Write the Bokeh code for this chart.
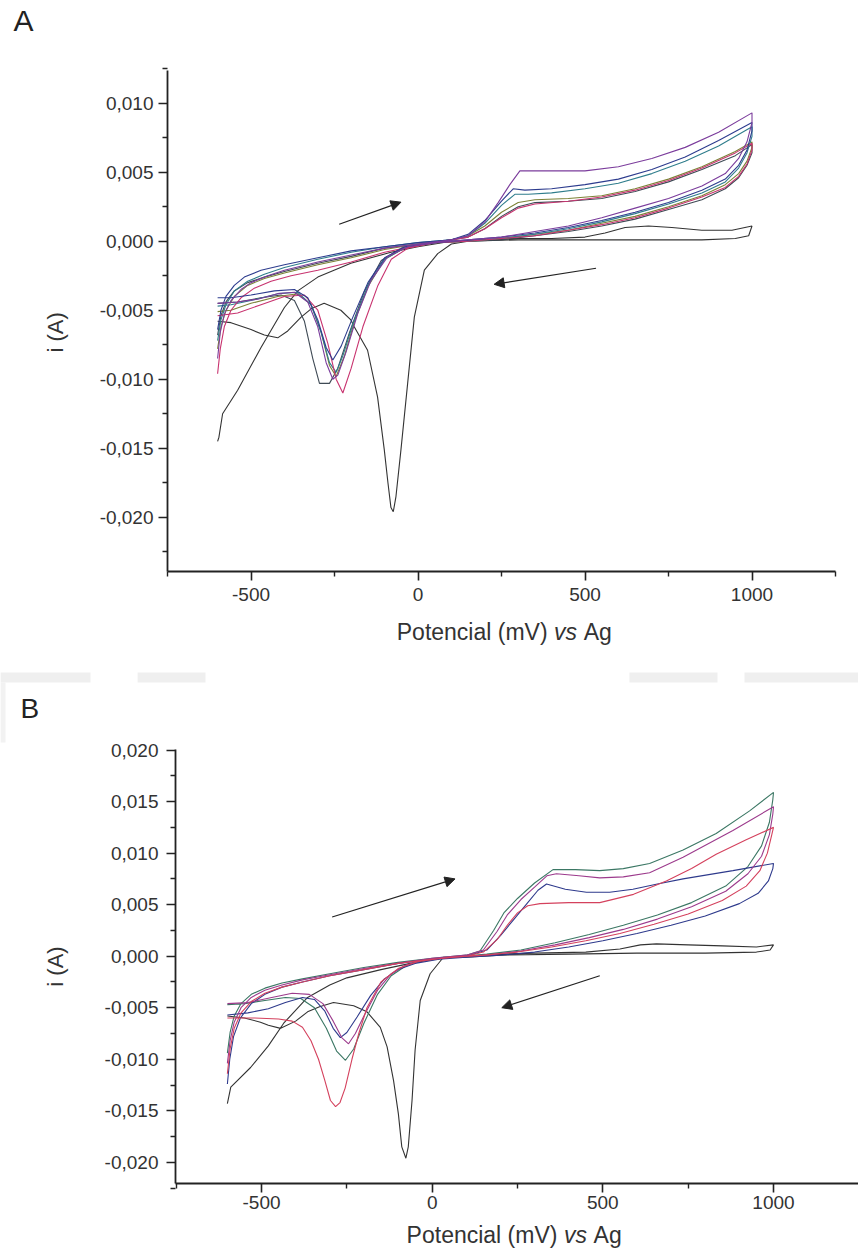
import numpy as np
from bokeh.plotting import figure
from bokeh.layouts import column
from bokeh.models import (FixedTicker, CustomJSTickFormatter, Label, Arrow,
                          NormalHead, Range1d, LinearAxis, BoxAnnotation)
from bokeh.embed import file_html
from bokeh.resources import INLINE

# ---------------- data: panel A (potential mV, current A) ----------------
a_black = [(-600, -0.0145), (-596, -0.0142), (-585, -0.0125), (-540, -0.0108), (-470, -0.0077),
           (-400, -0.0048), (-360, -0.0036), (-300, -0.0026), (-201, -0.0016), (-81, -0.0008),
           (0, -0.0004), (50, -0.0002), (100, 0.0), (200, 0.0001), (300, 0.0002), (400, 0.0002),
           (500, 0.0003), (560, 0.0006), (620, 0.0010), (690, 0.0011), (760, 0.0010), (850, 0.0008),
           (940, 0.0008), (1000, 0.0011), (990, 0.0004), (950, 0.0002), (850, 0.0001), (700, 0.0001),
           (500, 0.0001), (300, 0.0001), (150, 0.0), (100, -0.0002), (59, -0.0009), (19, -0.0021),
           (-11, -0.0055), (-31, -0.0103), (-51, -0.0151), (-66, -0.0185), (-74, -0.0196),
           (-81, -0.0193), (-90, -0.0175), (-101, -0.0151), (-121, -0.0113), (-151, -0.0079),
           (-191, -0.0062), (-201, -0.0057), (-231, -0.0050), (-281, -0.0045), (-320, -0.0049),
           (-350, -0.0055), (-390, -0.0065), (-420, -0.0070), (-460, -0.0068), (-500, -0.0064),
           (-560, -0.0059), (-600, -0.0058)]
a_purple = [(-600, -0.0085), (-592, -0.0066), (-580, -0.0053), (-560, -0.0043), (-530, -0.0035),
            (-500, -0.0030), (-450, -0.0025), (-400, -0.0021), (-300, -0.0015), (-200, -0.0010),
            (-100, -0.0005), (0, -0.0002), (100, 0.0001), (150, 0.0004), (200, 0.0014), (240, 0.0028),
            (275, 0.0041), (305, 0.0051), (400, 0.0051), (500, 0.0051), (600, 0.0054), (700, 0.0060),
            (800, 0.0068), (900, 0.0079), (1000, 0.0093), (1000, 0.0086), (985, 0.0072), (960, 0.0060),
            (920, 0.0049), (850, 0.0040), (750, 0.0031), (650, 0.0024), (550, 0.0017), (450, 0.0011),
            (350, 0.0007), (250, 0.0003), (150, 0.0001), (50, -0.0001), (-30, -0.0004), (-90, -0.0011),
            (-140, -0.0028), (-180, -0.0052), (-215, -0.0080), (-240, -0.0097), (-255, -0.0100),
            (-275, -0.0088), (-300, -0.0062), (-330, -0.0044), (-370, -0.0037), (-420, -0.0038),
            (-480, -0.0042), (-540, -0.0044), (-600, -0.0045)]
a_navy = [(-600, -0.0064), (-590, -0.0050), (-575, -0.0040), (-550, -0.0032), (-520, -0.0026),
          (-470, -0.0021), (-400, -0.0017), (-300, -0.0012), (-200, -0.0007), (-100, -0.0004),
          (0, -0.0001), (100, 0.0001), (150, 0.0005), (200, 0.0015), (250, 0.0029), (285, 0.0038),
          (320, 0.0037), (400, 0.0038), (500, 0.0041), (600, 0.0045), (700, 0.0052), (800, 0.0061),
          (900, 0.0073), (1000, 0.0086), (1000, 0.0080), (985, 0.0066), (960, 0.0055), (920, 0.0045),
          (850, 0.0037), (750, 0.0028), (650, 0.0021), (550, 0.0015), (450, 0.0010), (350, 0.0006),
          (250, 0.0003), (150, 0.0001), (50, -0.0001), (-40, -0.0004), (-100, -0.0012), (-150, -0.0030),
          (-195, -0.0055), (-230, -0.0076), (-255, -0.0086), (-275, -0.0077), (-300, -0.0057),
          (-330, -0.0041), (-370, -0.0035), (-430, -0.0036), (-500, -0.0039), (-560, -0.0041),
          (-600, -0.0041)]
a_teal = [(-600, -0.0072), (-590, -0.0057), (-575, -0.0046), (-550, -0.0036), (-510, -0.0029),
          (-460, -0.0024), (-400, -0.0019), (-300, -0.0013), (-200, -0.0008), (-100, -0.0004),
          (0, -0.0001), (100, 0.0001), (150, 0.0004), (200, 0.0013), (250, 0.0026), (290, 0.0034),
          (330, 0.0034), (400, 0.0035), (500, 0.0038), (600, 0.0042), (700, 0.0049), (800, 0.0058),
          (900, 0.0069), (1000, 0.0083), (1000, 0.0076), (985, 0.0064), (960, 0.0053), (920, 0.0043),
          (850, 0.0035), (750, 0.0027), (650, 0.0020), (550, 0.0014), (450, 0.0009), (350, 0.0005),
          (250, 0.0002), (150, 0.0), (50, -0.0001), (-40, -0.0005), (-100, -0.0013), (-150, -0.0032),
          (-195, -0.0060), (-225, -0.0083), (-245, -0.0095), (-265, -0.0088), (-290, -0.0066),
          (-320, -0.0046), (-360, -0.0037), (-420, -0.0038), (-500, -0.0043), (-560, -0.0046),
          (-600, -0.0047)]
a_olive = [(-600, -0.0078), (-590, -0.0062), (-575, -0.0050), (-550, -0.0040), (-510, -0.0032),
           (-460, -0.0027), (-400, -0.0023), (-300, -0.0017), (-200, -0.0012), (-100, -0.0006),
           (0, -0.0002), (100, 0.0001), (150, 0.0004), (200, 0.0011), (250, 0.0021), (300, 0.0028),
           (350, 0.0030), (450, 0.0031), (550, 0.0033), (650, 0.0038), (750, 0.0045), (850, 0.0054),
           (950, 0.0065), (1000, 0.0072), (1000, 0.0068), (985, 0.0058), (960, 0.0049), (920, 0.0041),
           (850, 0.0033), (750, 0.0025), (650, 0.0018), (550, 0.0013), (450, 0.0008), (350, 0.0005),
           (250, 0.0002), (150, 0.0), (50, -0.0001), (-40, -0.0005), (-100, -0.0013), (-150, -0.0033),
           (-190, -0.0058), (-220, -0.0083), (-245, -0.0098), (-265, -0.0090), (-290, -0.0066),
           (-320, -0.0046), (-360, -0.0038), (-420, -0.0040), (-500, -0.0045), (-560, -0.0050),
           (-600, -0.0051)]
a_magenta = [(-600, -0.0096), (-592, -0.0078), (-580, -0.0062), (-560, -0.0050), (-530, -0.0041),
             (-490, -0.0034), (-440, -0.0029), (-380, -0.0025), (-300, -0.0021), (-200, -0.0015),
             (-100, -0.0008), (0, -0.0003), (100, 0.0001), (150, 0.0003), (200, 0.0009), (250, 0.0017),
             (300, 0.0024), (350, 0.0027), (450, 0.0029), (550, 0.0032), (650, 0.0037), (750, 0.0044),
             (850, 0.0053), (950, 0.0064), (1000, 0.0071), (1000, 0.0066), (985, 0.0056), (960, 0.0047),
             (920, 0.0039), (850, 0.0032), (750, 0.0024), (650, 0.0017), (550, 0.0012), (450, 0.0008),
             (350, 0.0004), (250, 0.0002), (150, 0.0), (50, -0.0001), (-30, -0.0005), (-80, -0.0013),
             (-120, -0.0032), (-165, -0.0062), (-200, -0.0092), (-225, -0.0110), (-245, -0.0100),
             (-270, -0.0074), (-300, -0.0050), (-340, -0.0039), (-400, -0.0040), (-470, -0.0046),
             (-540, -0.0052), (-600, -0.0054)]
a_slate = [(-600, -0.0068), (-590, -0.0054), (-575, -0.0044), (-550, -0.0036), (-510, -0.0030),
           (-460, -0.0026), (-400, -0.0022), (-300, -0.0016), (-200, -0.0011), (-100, -0.0005),
           (0, -0.0002), (100, 0.0001), (150, 0.0003), (200, 0.0009), (250, 0.0018), (300, 0.0025),
           (350, 0.0028), (450, 0.0029), (550, 0.0031), (650, 0.0036), (750, 0.0043), (850, 0.0052),
           (950, 0.0062), (1000, 0.0070), (1000, 0.0064), (985, 0.0055), (960, 0.0046), (920, 0.0038),
           (850, 0.0030), (750, 0.0023), (650, 0.0016), (550, 0.0011), (450, 0.0007), (350, 0.0004),
           (250, 0.0001), (150, 0.0), (50, -0.0001), (-50, -0.0005), (-110, -0.0014), (-160, -0.0036),
           (-205, -0.0066), (-240, -0.0092), (-265, -0.0103), (-295, -0.0103), (-315, -0.0085),
           (-340, -0.0058), (-370, -0.0043), (-410, -0.0039), (-470, -0.0041), (-540, -0.0044),
           (-600, -0.0045)]

# ---------------- data: panel B ----------------
b_black = [(-600, -0.0143), (-590, -0.0127), (-532, -0.0108), (-480, -0.0087), (-435, -0.0065),
           (-365, -0.0040), (-300, -0.0028), (-250, -0.0021), (-150, -0.0013), (-50, -0.0006),
           (50, -0.0001), (100, 0.0), (200, 0.0002), (300, 0.0003), (450, 0.0004), (550, 0.0007),
           (610, 0.0011), (657, 0.0012), (750, 0.0011), (850, 0.0010), (950, 0.0009), (1000, 0.0011),
           (990, 0.0006), (950, 0.0004), (800, 0.0003), (600, 0.0003), (400, 0.0002), (200, 0.0001),
           (100, -0.0001), (33, -0.0001), (-6, -0.0017), (-35, -0.0043), (-50, -0.0091), (-59, -0.0140),
           (-70, -0.0185), (-77, -0.0196), (-89, -0.0185), (-99, -0.0153), (-113, -0.0121),
           (-132, -0.0088), (-152, -0.0069), (-191, -0.0054), (-230, -0.0048), (-289, -0.0045),
           (-330, -0.0049), (-365, -0.0054), (-400, -0.0063), (-444, -0.0070), (-480, -0.0067),
           (-503, -0.0064), (-550, -0.0060), (-600, -0.0058)]
b_green = [(-600, -0.0094), (-592, -0.0074), (-580, -0.0058), (-560, -0.0046), (-530, -0.0037),
           (-490, -0.0031), (-440, -0.0026), (-380, -0.0022), (-300, -0.0017), (-200, -0.0011),
           (-100, -0.0006), (0, -0.0002), (100, 0.0001), (140, 0.0005), (180, 0.0025), (210, 0.0042),
           (250, 0.0056), (300, 0.0071), (354, 0.0084), (420, 0.0084), (491, 0.0083), (560, 0.0085),
           (637, 0.0090), (735, 0.0103), (832, 0.0119), (930, 0.0141), (1000, 0.0159), (998, 0.0152),
           (988, 0.0130), (965, 0.0107), (925, 0.0087), (860, 0.0068), (760, 0.0052), (660, 0.0040),
           (560, 0.0030), (460, 0.0021), (360, 0.0013), (260, 0.0006), (160, 0.0002), (60, -0.0001),
           (-30, -0.0004), (-80, -0.0010), (-120, -0.0019), (-160, -0.0037), (-200, -0.0065),
           (-230, -0.0090), (-254, -0.0101), (-280, -0.0092), (-310, -0.0070), (-345, -0.0050),
           (-385, -0.0041), (-430, -0.0040), (-490, -0.0043), (-550, -0.0046), (-600, -0.0047)]
b_purple = [(-600, -0.0104), (-592, -0.0082), (-580, -0.0064), (-560, -0.0050), (-530, -0.0040),
            (-490, -0.0033), (-440, -0.0028), (-380, -0.0023), (-300, -0.0018), (-200, -0.0012),
            (-100, -0.0007), (0, -0.0002), (100, 0.0001), (150, 0.0006), (190, 0.0024), (220, 0.0040),
            (260, 0.0055), (300, 0.0067), (336, 0.0078), (364, 0.0080), (430, 0.0078), (491, 0.0076),
            (560, 0.0077), (637, 0.0081), (735, 0.0096), (881, 0.0122), (1000, 0.0145), (998, 0.0138),
            (988, 0.0118), (965, 0.0097), (925, 0.0080), (860, 0.0063), (760, 0.0048), (660, 0.0036),
            (560, 0.0026), (460, 0.0018), (360, 0.0011), (260, 0.0005), (160, 0.0001), (60, -0.0001),
            (-30, -0.0004), (-80, -0.0009), (-120, -0.0017), (-160, -0.0033), (-200, -0.0058),
            (-225, -0.0075), (-245, -0.0085), (-265, -0.0079), (-290, -0.0063), (-320, -0.0046),
            (-360, -0.0037), (-410, -0.0036), (-470, -0.0040), (-540, -0.0045), (-600, -0.0046)]
b_navy = [(-600, -0.0124), (-593, -0.0100), (-582, -0.0078), (-562, -0.0060), (-530, -0.0046),
          (-490, -0.0037), (-440, -0.0030), (-380, -0.0025), (-300, -0.0019), (-200, -0.0013),
          (-100, -0.0007), (0, -0.0003), (100, 0.0), (160, 0.0006), (200, 0.0020), (240, 0.0036),
          (280, 0.0052), (310, 0.0064), (335, 0.0070), (390, 0.0065), (452, 0.0062), (520, 0.0062),
          (588, 0.0065), (660, 0.0070), (735, 0.0075), (881, 0.0083), (1000, 0.0090), (998, 0.0085),
          (985, 0.0073), (955, 0.0061), (900, 0.0051), (800, 0.0039), (700, 0.0030), (600, 0.0022),
          (500, 0.0015), (400, 0.0009), (300, 0.0004), (200, 0.0001), (100, -0.0001), (20, -0.0003),
          (-50, -0.0007), (-100, -0.0013), (-140, -0.0022), (-180, -0.0038), (-220, -0.0059),
          (-250, -0.0074), (-269, -0.0079), (-290, -0.0070), (-315, -0.0053), (-345, -0.0042),
          (-380, -0.0040), (-430, -0.0045), (-480, -0.0051), (-540, -0.0055), (-600, -0.0057)]
b_red = [(-600, -0.0114), (-592, -0.0090), (-580, -0.0070), (-560, -0.0055), (-530, -0.0044),
         (-490, -0.0036), (-440, -0.0030), (-380, -0.0025), (-300, -0.0019), (-200, -0.0013),
         (-100, -0.0007), (0, -0.0003), (100, 0.0), (150, 0.0004), (190, 0.0016), (220, 0.0030),
         (250, 0.0042), (280, 0.0049), (316, 0.0051), (400, 0.0052), (491, 0.0052), (590, 0.0060),
         (686, 0.0073), (760, 0.0085), (832, 0.0099), (920, 0.0113), (1000, 0.0125), (995, 0.0118),
         (982, 0.0100), (960, 0.0083), (920, 0.0068), (850, 0.0054), (750, 0.0041), (650, 0.0031),
         (550, 0.0022), (450, 0.0015), (350, 0.0009), (250, 0.0004), (150, 0.0001), (50, -0.0001),
         (-40, -0.0005), (-100, -0.0012), (-150, -0.0025), (-191, -0.0050), (-215, -0.0075),
         (-235, -0.0100), (-255, -0.0128), (-270, -0.0142), (-283, -0.0146), (-298, -0.0140),
         (-315, -0.0120), (-333, -0.0100), (-355, -0.0082), (-380, -0.0069), (-410, -0.0063),
         (-450, -0.0061), (-520, -0.0060), (-600, -0.0060)]

a_curves = [(a_black, "#333333"), (a_slate, "#3f4a55"), (a_olive, "#7c8236"), (a_teal, "#2f7d8c"),
            (a_magenta, "#c8336f"), (a_navy, "#2d3c8e"), (a_purple, "#7b3c9c")]
b_curves = [(b_black, "#333333"), (b_green, "#3b7764"), (b_navy, "#2e3a8c"), (b_purple, "#9c3a8c"),
            (b_red, "#d4415d")]

x_major = [-500, 0, 500, 1000]
x_minor = [-750, -250, 250, 750, 1250]
a_y_major = [-0.020, -0.015, -0.010, -0.005, 0.0, 0.005, 0.010]
a_y_minor = [-0.0225, -0.0175, -0.0125, -0.0075, -0.0025, 0.0025, 0.0075, 0.0125]
b_y_major = [-0.020, -0.015, -0.010, -0.005, 0.0, 0.005, 0.010, 0.015, 0.020]
b_y_minor = [-0.0225, -0.0175, -0.0125, -0.0075, -0.0025, 0.0025, 0.0075, 0.0125, 0.0175]

FONT = "Liberation Sans"
INK = "#222222"
TXT = "#333333"


def make_axes(p, xbounds, ybounds, ymaj, ymin, xstand, ystand):
    xa = LinearAxis(fixed_location=ybounds[0], bounds=xbounds,
                    ticker=FixedTicker(ticks=x_major, minor_ticks=x_minor),
                    formatter=CustomJSTickFormatter(code="return tick.toFixed(0);"))
    ya = LinearAxis(fixed_location=xbounds[0], bounds=ybounds,
                    ticker=FixedTicker(ticks=ymaj, minor_ticks=ymin),
                    formatter=CustomJSTickFormatter(code="return tick.toFixed(3).replace('.', ',');"))
    for ax, st in ((xa, xstand), (ya, ystand)):
        ax.axis_line_width = 1.8
        ax.axis_line_color = INK
        ax.major_tick_in = 0
        ax.major_tick_out = 9
        ax.minor_tick_in = 0
        ax.minor_tick_out = 5
        ax.major_tick_line_width = 1.6
        ax.minor_tick_line_width = 1.4
        ax.major_tick_line_color = INK
        ax.minor_tick_line_color = INK
        ax.major_label_text_font = FONT
        ax.major_label_text_font_size = "19px"
        ax.major_label_text_color = TXT
        ax.major_label_standoff = st
    p.add_layout(xa, "below")
    p.add_layout(ya, "left")
    p.grid.visible = False
    p.outline_line_color = None


def add_texts(p, letter, lx, ly, lsize, ylab_x, ylab_y, xl_y, xl_parts):
    p.add_layout(Label(x=lx, y=ly, text=letter, text_font=FONT, text_font_size=lsize,
                       text_color=INK, text_baseline="alphabetic", text_align="left"))
    p.add_layout(Label(x=ylab_x, y=ylab_y, text="i (A)", angle=np.pi / 2, text_font=FONT,
                       text_font_size="22px", text_color=TXT, text_align="center",
                       text_baseline="middle"))
    (x1, x2, x3) = xl_parts
    p.add_layout(Label(x=x1, y=xl_y, text="Potencial (mV)", text_font=FONT, text_font_size="23px",
                       text_color=TXT, text_align="right", text_baseline="alphabetic"))
    p.add_layout(Label(x=x2, y=xl_y, text="vs", text_font=FONT, text_font_size="23px",
                       text_font_style="italic", text_color=TXT, text_align="left",
                       text_baseline="alphabetic"))
    p.add_layout(Label(x=x3, y=xl_y, text="Ag", text_font=FONT, text_font_size="23px",
                       text_color=TXT, text_align="left", text_baseline="alphabetic"))


def add_arrow(p, xs, ys, xe, ye):
    p.add_layout(Arrow(end=NormalHead(size=10, fill_color=INK, line_color=INK, line_width=1),
                       x_start=xs, y_start=ys, x_end=xe, y_end=ye,
                       line_color=INK, line_width=1.2))


def base_fig(h, xr, yr):
    return figure(width=858, height=h, x_range=Range1d(*xr), y_range=Range1d(*yr),
                  output_backend="svg", toolbar_location=None, title=None,
                  x_axis_location=None, y_axis_location=None,
                  min_border_left=0, min_border_right=0, min_border_top=0, min_border_bottom=0)


# ---------------- panel A ----------------
pA = base_fig(658, (-1250.0, 1318.86), (-0.030234, 0.017442))
make_axes(pA, (-750, 1250), (-0.02393, 0.01237), a_y_major, a_y_minor, 8, 5)
for pts, col in a_curves:
    xs, ys = zip(*pts)
    pA.line(list(xs), list(ys), line_color=col, line_width=1.1)
add_arrow(pA, -236, 0.00123, -51, 0.00283)
add_arrow(pA, 533, -0.00196, 228, -0.00312)
add_texts(pA, "A", -1211, 0.015993, "30px", -1085, -0.00661, -0.02835, (388, 407, 496))

# ---------------- panel B ----------------
pB = base_fig(591, (-1264.65, 1249.0), (-0.028459, 0.028886))
make_axes(pB, (-752, 1250), (-0.022055, 0.02005), b_y_major, b_y_minor, 3, 8)
for (bx0, bx1) in ((-1265, -1001), (-863, -664), (578, 836), (915, 1249)):
    pB.add_layout(BoxAnnotation(left=bx0, right=bx1, bottom=0.026557, top=0.027528,
                                fill_color="#efefef", fill_alpha=1.0, line_color=None))
pB.add_layout(BoxAnnotation(left=-1265, right=-1250, bottom=0.020735, top=0.026557,
                            fill_color="#f2f2f2", fill_alpha=1.0, line_color=None))
for pts, col in b_curves:
    xs, ys = zip(*pts)
    pB.line(list(xs), list(ys), line_color=col, line_width=1.1)
add_arrow(pB, -293, 0.0038, 67, 0.0075)
add_arrow(pB, 491, -0.0019, 204, -0.0050)
add_texts(pB, "B", -1206, 0.024034, "28px", -1103.5, -0.0010, -0.027004, (367, 386, 473))

layout = column(pA, pB, spacing=0)
open("out.html", "w").write(file_html(layout, INLINE))
